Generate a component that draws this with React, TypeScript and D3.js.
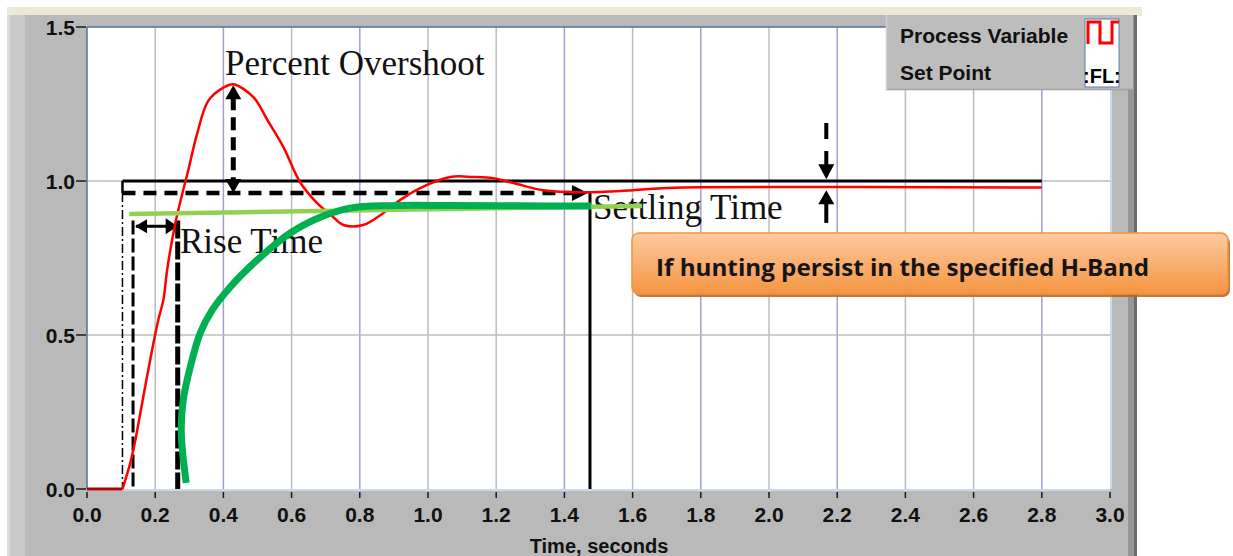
import React from 'react';
import { scaleLinear, line, curveCatmullRom } from 'd3';

// chart values
const xTickValues = [0, 0.2, 0.4, 0.6, 0.8, 1.0, 1.2, 1.4, 1.6, 1.8, 2.0, 2.2, 2.4, 2.6, 2.8, 3.0];
const xTickLabels = ['0.0', '0.2', '0.4', '0.6', '0.8', '1.0', '1.2', '1.4', '1.6', '1.8', '2.0', '2.2', '2.4', '2.6', '2.8', '3.0'];
const yTickValues = [0, 0.5, 1.0, 1.5];
const yTickLabels = ['0.0', '0.5', '1.0', '1.5'];
const purpleGrid = [0.4, 0.8, 1.4, 1.8, 2.2, 2.8];

// process variable (red)
const pvTime = [0.104, 0.127, 0.142, 0.165, 0.191, 0.209, 0.224, 0.235, 0.259, 0.282, 0.297, 0.323, 0.356, 0.4, 0.429, 0.488, 0.529, 0.576, 0.625, 0.675, 0.722, 0.752, 0.81, 0.869, 0.918, 0.977, 1.065, 1.133, 1.191, 1.261, 1.338, 1.408, 1.505, 1.601, 1.701, 1.798, 2.8];
const pvValue = [0, 0.085, 0.16, 0.299, 0.452, 0.549, 0.614, 0.711, 0.863, 0.97, 1.035, 1.154, 1.261, 1.303, 1.314, 1.272, 1.198, 1.11, 0.996, 0.928, 0.883, 0.857, 0.857, 0.896, 0.938, 0.977, 1.013, 1.013, 1.009, 0.99, 0.97, 0.964, 0.964, 0.97, 0.977, 0.98, 0.979];
const stepTime = 0.104;

// set point (black)
const spTime = [0.104, 2.8];
const spValue = [1.0, 1.0];

// hand drawn band line (light green) and response sketch (dark green)
const bandTime = [0.124, 1.628];
const bandValue = [0.893, 0.919];
const sketchTime = [0.291, 0.2765, 0.2823, 0.3029, 0.3322, 0.3674, 0.4202, 0.4993, 0.5961, 0.6928, 0.772, 0.8892, 1.0651, 1.2703, 1.4785];
const sketchValue = [0.02, 0.1826, 0.2896, 0.3966, 0.5068, 0.5814, 0.656, 0.7436, 0.8311, 0.886, 0.912, 0.92, 0.9205, 0.9195, 0.9186];

// annotation marks
const bandLow = 0.961;
const overshootTime = 0.429;
const overshootPeak = 1.314;
const riseStart = 0.135;
const riseEnd = 0.266;
const riseArrowValue = 0.853;
const riseTop = 0.872;
const settleTime = 1.475;
const settleArrowTip = 1.469;
const tolTime = 2.168;
const tolUpper = [1.188, 1.006];
const tolLower = [0.864, 0.97];

const W = 1233;
const H = 556;
const x = scaleLinear().domain([0, 3]).range([87, 1110]);
const y = scaleLinear().domain([0, 1.5]).range([489, 27]);

const path = line<[number, number]>()
    .x(d => x(d[0]))
    .y(d => y(d[1]))
    .curve(curveCatmullRom.alpha(0.5));
const straight = line<[number, number]>().x(d => x(d[0])).y(d => y(d[1]));

const zip = (a: number[], b: number[]) => a.map((v, i) => [v, b[i]] as [number, number]);

// arrow head polygon, tip at (tx,ty)
const head = (tx: number, ty: number, dir: string, len = 13, half = 7) => {
    if (dir === 'up') return `${tx},${ty} ${tx - half},${ty + len} ${tx + half},${ty + len}`;
    if (dir === 'down') return `${tx},${ty} ${tx - half},${ty - len} ${tx + half},${ty - len}`;
    if (dir === 'left') return `${tx},${ty} ${tx + len},${ty - half} ${tx + len},${ty + half}`;
    return `${tx},${ty} ${tx - len},${ty - half} ${tx - len},${ty + half}`;
};

const pixelFont = '"Liberation Sans", Arial, sans-serif';
const serif = '"Liberation Serif", "Times New Roman", serif';

const App: React.FC = () => {
    const ox = x(overshootTime);
    const tx = x(tolTime);
    return (
        <svg width={W} height={H} style={{ position: 'absolute', left: 0, top: 0 }}>
            <defs>
                <linearGradient id="orange" x1="0" y1="0" x2="0" y2="1">
                    <stop offset="0" stopColor="#fccba0" />
                    <stop offset="0.5" stopColor="#f9af72" />
                    <stop offset="1" stopColor="#f5953f" />
                </linearGradient>
                <clipPath id="iconClip">
                    <rect x={1085} y={19} width={34} height={68} />
                </clipPath>
            </defs>
            <rect width={W} height={H} fill="#ffffff" />

            {/* front panel */}
            <rect x={7} y={7} width={1135} height={9} fill="#ece9d8" />
            <rect x={7} y={15} width={1130} height={H - 15} fill="#b9b9b9" />
            <rect x={7} y={15} width={18} height={H - 15} fill="#cacaca" />
            <rect x={7} y={15} width={3} height={H - 15} fill="#dcdcdc" />
            <rect x={1128} y={15} width={9} height={H - 15} fill="#979797" />
            <rect x={1134} y={15} width={3} height={H - 15} fill="#6c6c6c" />

            {/* plot area */}
            <rect x={x(0)} y={y(1.5)} width={x(3) - x(0)} height={y(0) - y(1.5)} fill="#ffffff" />
            {xTickValues.slice(1, -1).map(t => (
                <line key={'gx' + t} x1={x(t)} x2={x(t)} y1={y(1.5)} y2={y(0)}
                    stroke={purpleGrid.includes(t) ? '#a99cd2' : '#bcbcbc'} strokeWidth={1.5} />
            ))}
            {yTickValues.slice(1, -1).map(v => (
                <line key={'gy' + v} x1={x(0)} x2={x(3)} y1={y(v)} y2={y(v)} stroke="#bcbcbc" strokeWidth={1.5} />
            ))}
            <line x1={x(0)} x2={x(3)} y1={y(0) + 1} y2={y(0) + 1} stroke="#c8d9ee" strokeWidth={2} />
            <line x1={x(3) + 1} x2={x(3) + 1} y1={y(1.5)} y2={y(0)} stroke="#c8d9ee" strokeWidth={2} />
            <line x1={x(0)} x2={x(3)} y1={y(1.5)} y2={y(1.5)} stroke="#4f72a0" strokeWidth={1.5} />
            <line x1={x(0)} x2={x(0)} y1={y(1.5)} y2={y(0)} stroke="#4f72a0" strokeWidth={1.5} />

            {/* axes */}
            {yTickValues.map((v, i) => (
                <g key={'yt' + v}>
                    <line x1={76} x2={86} y1={y(v)} y2={y(v)} stroke="#1a1a1a" strokeWidth={1.5} />
                    <text x={75} y={y(v) + 7.5} textAnchor="end" fontFamily={pixelFont} fontWeight="bold"
                        fontSize={21} fill="#111">{yTickLabels[i]}</text>
                </g>
            ))}
            {xTickValues.map((t, i) => (
                <g key={'xt' + t}>
                    <line x1={x(t)} x2={x(t)} y1={492} y2={498} stroke="#1a1a1a" strokeWidth={1.5} />
                    <text x={x(t)} y={522} textAnchor="middle" fontFamily={pixelFont} fontWeight="bold"
                        fontSize={21} fill="#111">{xTickLabels[i]}</text>
                </g>
            ))}
            <text x={599} y={553} textAnchor="middle" fontFamily={pixelFont} fontWeight="bold" fontSize={20}
                fill="#111">Time, seconds</text>

            {/* set point and response annotations */}
            <path d={straight(zip(spTime, spValue)) ?? ''} fill="none" stroke="#000" strokeWidth={3} />
            <line x1={x(stepTime)} x2={x(stepTime)} y1={y(1)} y2={y(bandLow)} stroke="#000" strokeWidth={2.5} />
            <line x1={x(stepTime)} x2={x(stepTime)} y1={y(bandLow)} y2={y(0)} stroke="#000" strokeWidth={1.5}
                strokeDasharray="9 3 2 3" />
            <line x1={x(stepTime)} x2={x(settleArrowTip) - 15} y1={y(bandLow)} y2={y(bandLow)} stroke="#000"
                strokeWidth={4.5} strokeDasharray="13 8" />
            <polygon points={head(x(settleArrowTip), y(bandLow), 'right', 16, 8)} fill="#000" />
            <line x1={x(settleTime)} x2={x(settleTime)} y1={y(bandLow) - 1} y2={y(0)} stroke="#000" strokeWidth={3} />

            {/* percent overshoot */}
            <line x1={ox} x2={ox} y1={y(overshootPeak) + 13} y2={y(bandLow) - 12} stroke="#000" strokeWidth={5}
                strokeDasharray="13 7" />
            <polygon points={head(ox, y(overshootPeak) + 1, 'up', 14, 8)} fill="#000" />
            <polygon points={head(ox, y(bandLow), 'down', 14, 8)} fill="#000" />

            {/* rise time */}
            <line x1={x(riseStart)} x2={x(riseStart)} y1={y(riseTop)} y2={y(0)} stroke="#000" strokeWidth={3}
                strokeDasharray="14 4" />
            <line x1={x(riseEnd)} x2={x(riseEnd)} y1={y(riseTop)} y2={y(0)} stroke="#000" strokeWidth={5}
                strokeDasharray="18 3" />
            <line x1={x(riseStart) + 3} x2={x(riseEnd) - 10} y1={y(riseArrowValue)} y2={y(riseArrowValue)}
                stroke="#000" strokeWidth={3} />
            <polygon points={head(x(riseStart) + 2, y(riseArrowValue), 'left', 12, 7)} fill="#000" />
            <polygon points={head(x(riseEnd), y(riseArrowValue), 'right', 12, 8)} fill="#000" />

            {/* tolerance band arrows */}
            <line x1={tx} x2={tx} y1={y(tolUpper[0])} y2={y(tolUpper[1]) - 13} stroke="#000" strokeWidth={4}
                strokeDasharray="16 12" />
            <polygon points={head(tx, y(tolUpper[1]), 'down', 15, 8)} fill="#000" />
            <line x1={tx} x2={tx} y1={y(tolLower[0])} y2={y(tolLower[1]) + 12} stroke="#000" strokeWidth={4} />
            <polygon points={head(tx, y(tolLower[1]), 'up', 14, 8)} fill="#000" />

            {/* process variable */}
            <line x1={x(0)} x2={x(stepTime)} y1={y(0)} y2={y(0)} stroke="#b00000" strokeWidth={3} />
            <path d={path(zip(pvTime, pvValue)) ?? ''} fill="none" stroke="#ff0000" strokeWidth={2.5}
                strokeLinejoin="round" />

            {/* labels */}
            <text x={225} y={75} fontFamily={serif} fontSize={35} fill="#111">Percent Overshoot</text>
            <text x={180} y={253} fontFamily={serif} fontSize={35} fill="#111">Rise Time</text>
            <text x={593} y={219} fontFamily={serif} fontSize={35} fill="#111">Settling Time</text>

            {/* green overlays */}
            <path d={straight(zip(bandTime, bandValue)) ?? ''} fill="none" stroke="#92d050" strokeWidth={4.5} />
            <path d={path(zip(sketchTime, sketchValue)) ?? ''} fill="none" stroke="#00b050" strokeWidth={7} />

            {/* legend */}
            <rect x={886} y={15} width={247} height={75} fill="#bdbdbd" />
            <line x1={886} x2={1133} y1={89.5} y2={89.5} stroke="#a2a2a2" strokeWidth={1.5} />
            <line x1={886.5} x2={886.5} y1={15} y2={90} stroke="#cfcfcf" strokeWidth={1.5} />
            <text x={900} y={43} fontFamily={pixelFont} fontWeight="bold" fontSize={21} fill="#111">Process Variable</text>
            <text x={900} y={80} fontFamily={pixelFont} fontWeight="bold" fontSize={21} fill="#111">Set Point</text>
            <rect x={1085} y={19} width={34} height={68} fill="#ffffff" stroke="#5b7fae" strokeWidth={1} />
            <path d="M1088,44 V22 H1100 V43 H1112 V22 H1119" fill="none" stroke="#ff0000" strokeWidth={3} />
            <text x={1083} y={83} clipPath="url(#iconClip)" fontFamily={pixelFont} fontWeight="bold" fontSize={20}
                fill="#000">:FL:</text>

            {/* call-out */}
            <rect x={634} y={236} width={596} height={61} rx={7} fill="#b4611f" opacity={0.85} />
            <rect x={632} y={233} width={596} height={61} rx={7} fill="url(#orange)" stroke="#f3923f" strokeWidth={1.5} />
            <text x={656} y={276} fontFamily='"Open Sans", "Noto Sans", sans-serif' fontWeight="bold" fontSize={24}
                fill="#151515" textLength={493} lengthAdjust="spacingAndGlyphs">If hunting persist in the specified H-Band</text>
        </svg>
    );
};

export default App;
